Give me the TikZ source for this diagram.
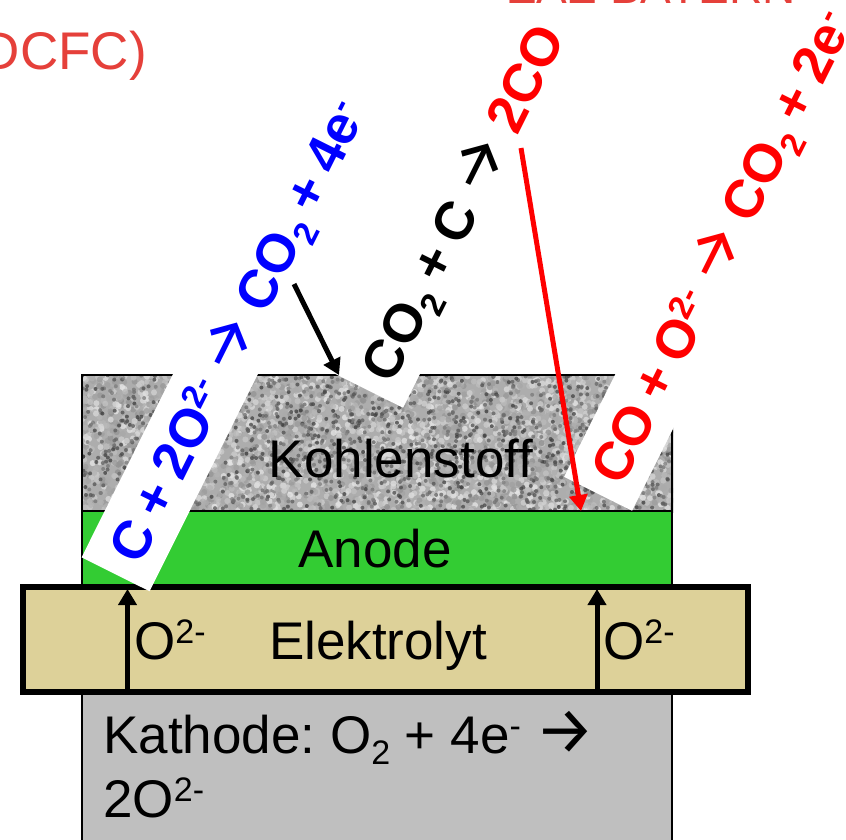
\documentclass[tikz,border=0pt]{standalone}
\usepackage{fontspec}
\setmainfont{Liberation Sans}
\newfontfamily\arrowfont{Fira Sans}
\usetikzlibrary{arrows.meta}
\definecolor{anodegreen}{HTML}{33CC33}
\definecolor{elektrosand}{HTML}{DDD199}
\definecolor{kathodegray}{HTML}{BFBFBF}
\definecolor{titlered}{HTML}{E5403A}
\newcommand{\hoch}[1]{\raisebox{0.3em}{\fontsize{34}{34}\selectfont #1}}
\newcommand{\tief}[1]{\raisebox{-0.22em}{\fontsize{34}{34}\selectfont #1}}
\newcommand{\pfeil}{\scalebox{1.25}{\arrowfont\mdseries →}}
\newcommand{\reactfont}{\fontsize{54}{64}\bfseries\selectfont\spaceskip 0.22em\relax}

\begin{document}
\begin{tikzpicture}[x = 1pt, y = -1pt,
                      every node/.style = {font = \fontsize{53}{64}\selectfont, inner sep = 0pt},
                      layer/.style = {draw = black, line width = 2pt, minimum width = 590pt},
                      reaction/.style = {fill = white, rotate = 63.5, anchor = west, font = \reactfont,
                                         text height = 38pt, text depth = 0pt, inner ysep = 19pt, inner xsep = 18pt},
                      ionflow/.style = {line width = 5pt, -{Triangle[length = 16pt, width = 18pt]}},
                      feed/.style = {line width = 5pt, -{Triangle[length = 16pt, width = 18pt]}}]
    \useasboundingbox (0, 0) rectangle (846, 839);

    % layers
    \node [layer, fill = black!32, minimum height = 136pt] (kohle) at (377, 443){};
    \begin{scope}
      \clip (kohle.south west) rectangle (kohle.north east);
      \pgfmathsetseed{4711}
      \foreach \i in {1,...,3600} {
        \pgfmathsetmacro{\px}{82 + 590*rnd}
        \pgfmathsetmacro{\py}{375 + 136*rnd}
        \pgfmathsetmacro{\shade}{int(10 + 34*rnd)}
        \fill [black!\shade, opacity = 0.8] (\px, \py) circle (3);
      }
      \foreach \i in {1,...,1400} {
        \pgfmathsetmacro{\px}{82 + 590*rnd}
        \pgfmathsetmacro{\py}{375 + 136*rnd}
        \pgfmathsetmacro{\shade}{int(50 + 28*rnd)}
        \fill [black!\shade, opacity = 0.75] (\px, \py) circle (2);
      }
      \draw [line width = 4pt] (kohle.south west) rectangle (kohle.north east);
    \end{scope}
    \node [layer, fill = anodegreen, minimum height = 75pt] (anode) at (377, 548.5){};
    \node [layer, fill = kathodegray, minimum height = 200pt] (kathode) at (377, 792){};
    \node [draw = black, line width = 6pt, fill = elektrosand, minimum width = 725pt, minimum height = 105pt] (elektrolyt) at (385, 639.5){};

    % layer labels
    \node (lkohle) at (401, 459) {Kohlenstoff};
    \node (lanode) at (375, 549) {Anode};
    \node (lelektro) at (378, 646) {Elektrolyt};
    \node [anchor = base west, align = left] (lkathode) at (103, 817) {Kathode:\ O\tief{2} + 4e\hoch{-} \pfeil\\2O\hoch{2-}};
    \node [anchor = base west] (ionl) at (134, 659) {O\hoch{2-}};
    \node [anchor = base west] (ionr) at (603, 659) {O\hoch{2-}};

    % reactions on white strips
    \node [reaction, text = blue] (rblue) at (115.5, 574.5) {C + 2O\hoch{2-} \pfeil{} CO\tief{2} + 4e\hoch{-}};
    \node [reaction, inner xsep = 15pt] (rblack) at (369, 391) {CO\tief{2} + C \pfeil{} \textcolor{red}{2CO}};
    \node [reaction, inner xsep = 16pt, text = red] (rred) at (598, 494) {CO + O\hoch{2-} \pfeil{} CO\tief{2} + 2e\hoch{-}};

    % cut off at the page edge
    \node [anchor = base east, text = titlered] (tleft) at (147, 69) {DCFC)};
    \node [anchor = base, text = titlered, font = \fontsize{46}{46}\selectfont] (ttop) at (652, 3) {ZAE BAYERN};

    % arrows
    \coordinate (bluetail) at (294, 284);
    \coordinate (blackhead) at (339, 375);
    \coordinate (redtail) at (521, 148);
    \coordinate (redhead) at (581, 511);
    \coordinate (ionltail) at (127.5, 692);
    \coordinate (ionlhead) at (127.5, 589);
    \coordinate (ionrtail) at (597, 692);
    \coordinate (ionrhead) at (597, 589);
    \draw [feed] (bluetail) -- (blackhead);
    \draw [feed, red] (redtail) -- (redhead);
    \draw [ionflow] (ionltail) -- (ionlhead);
    \draw [ionflow] (ionrtail) -- (ionrhead);
\end{tikzpicture}
\end{document}
